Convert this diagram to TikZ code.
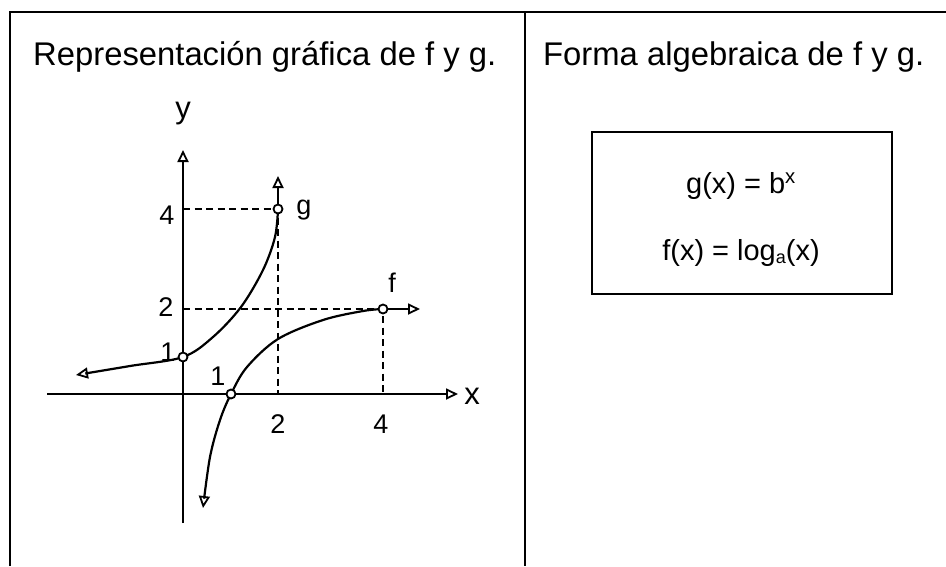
\documentclass[tikz,border=0pt]{standalone}
\usepackage{fontspec}
\setmainfont{Liberation Sans}
\usetikzlibrary{arrows.meta}
\begin{document}
\begin{tikzpicture}[x=1pt,y=-1pt,
  frame/.style={line width=2.8pt},
  axis/.style={line width=2.2pt},
  curve/.style={line width=2.2pt},
  guide/.style={line width=1.8pt, dash pattern=on 7pt off 4.5pt},
  tip/.style={-{Triangle[open,length=12pt,width=11pt,line width=1.8pt]}},
  pt/.style={circle, draw, fill=white, line width=1.8pt, inner sep=0pt, minimum size=9pt},
  lbl/.style={font=\fontsize{27}{27}\selectfont, inner sep=0pt},
  title/.style={font=\fontsize{32.8}{36}\selectfont, inner sep=0pt, anchor=base west},
  formula/.style={font=\fontsize{29}{32}\selectfont, inner sep=0pt, anchor=base}]
\useasboundingbox (0,0) rectangle (946,566);
% frame
\draw[frame] (10,566) -- (10,12) -- (946,12);
\draw[frame] (525,12) -- (525,566);
% titles
\node[title] (t1) at (33,65) {Representación gráfica de f y g.};
\node[title] (t2) at (543,65) {Forma algebraica de f y g.};
% formula box
\node[draw, line width=2.4pt, minimum width=300pt, minimum height=162pt, inner sep=0pt] (formbox) at (742,213) {};
\node[formula] (geq) at (741,193) {g(x)\hspace{8pt}=\hspace{8pt}b\textsuperscript{x}};
\node[formula] (feq) at (741,260) {f(x)\hspace{8pt}=\hspace{8pt}log\raisebox{-0.12em}{\fontsize{18}{18}\selectfont a}(x)};
% coordinates
\coordinate (xl) at (47,394);
\coordinate (xr) at (458,394);
\coordinate (yb) at (183,523);
\coordinate (yt) at (183,150);
\coordinate (G0) at (183,357);
\coordinate (GP) at (278,209);
\coordinate (F0) at (231,394);
\coordinate (FP) at (383,309);
\coordinate (gtip) at (278,176);
\coordinate (ftip) at (420,309);
\coordinate (yg) at (183,209);
\coordinate (yf) at (183,309);
\coordinate (xg) at (278,394);
\coordinate (xf) at (383,394);
% dashed guides
\draw[guide] (yg) -- (GP) -- (xg);
\draw[guide] (yf) -- (FP) -- (xf);
% axes
\draw[axis,tip] (xl) -- (xr);
\draw[axis,tip] (yb) -- (yt);
\node[font=\fontsize{31}{31}\selectfont, inner sep=0pt] (xlab) at (472,396) {x};
\node[font=\fontsize{31}{31}\selectfont, inner sep=0pt] (ylab) at (183,114) {y};
% curves
\draw[curve,tip] plot[smooth, tension=0.55] coordinates {(GP) (275,237) (263,270) (241,307) (213,337) (G0) (130,366) (76,375)};
\draw[curve,tip] (GP) -- (gtip);
\draw[curve,tip] plot[smooth, tension=0.55] coordinates {(FP) (363,311) (323,320) (278,339) (247,367) (F0) (220,420) (210,457) (203,508)};
\draw[curve,tip] (FP) -- (ftip);
% points
\node[pt] (g0) at (G0) {};
\node[pt] (gp) at (GP) {};
\node[pt] (f0) at (F0) {};
\node[pt] (fp) at (FP) {};
% labels
\node[lbl] (l4y) at (167,215) {4};
\node[lbl] (l2y) at (166,307) {2};
\node[lbl] (l1y) at (168,352) {1};
\node[lbl] (l1x) at (218,376) {1};
\node[lbl] (l2x) at (278,424) {2};
\node[lbl] (l4x) at (381,424) {4};
\node[lbl] (lg) at (304,210) {g};
\node[lbl] (lf) at (392,283) {f};
\end{tikzpicture}
\end{document}
